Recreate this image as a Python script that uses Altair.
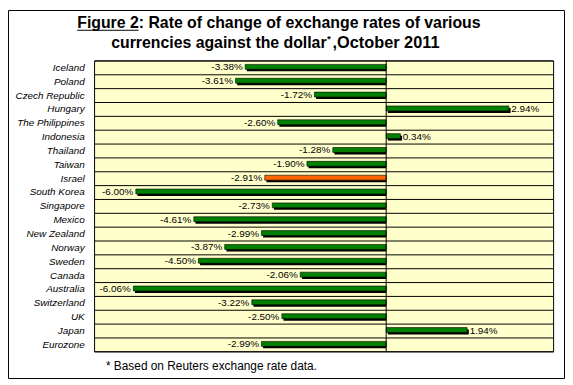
import altair as alt
import pandas as pd

countries = ["Iceland", "Poland", "Czech Republic", "Hungary", "The Philippines",
             "Indonesia", "Thailand", "Taiwan", "Israel", "South Korea", "Singapore",
             "Mexico", "New Zealand", "Norway", "Sweden", "Canada", "Australia",
             "Switzerland", "UK", "Japan", "Eurozone"]
changes = [-3.38, -3.61, -1.72, 2.94, -2.60, 0.34, -1.28, -1.90, -2.91, -6.00, -2.73,
           -4.61, -2.99, -3.87, -4.50, -2.06, -6.06, -3.22, -2.50, 1.94, -2.99]
highlight = ["Israel"]
title_fig = "Figure 2"
title_line1 = "Figure 2: Rate of change of exchange rates of various"
title_line2a = "currencies against the dollar"
title_star = "*"
title_line2b = ",October 2011"
footnote = "* Based on Reuters exchange rate data."

GREEN = "#008000"
ORANGE = "#FF6600"
BG = "#FFFFCC"
FONT = "Liberation Sans"

df = pd.DataFrame({"country": countries, "change": changes})
df["label"] = [f"{v:.2f}%" for v in changes]
df["color"] = [ORANGE if c in highlight else GREEN for c in countries]
df["zero"] = 0.0

W, H = 464, 294
xscale = alt.Scale(domain=[-7, 4], nice=False, zero=False)
X = alt.X("change:Q", scale=xscale, axis=None)
Y = alt.Y("country:N", sort=countries,
          scale=alt.Scale(paddingInner=0, paddingOuter=0),
          axis=alt.Axis(title=None, labelFont=FONT, labelFontStyle="italic",
                        labelFontSize=10, labelColor="black", ticks=False, tickSize=0,
                        domain=False, grid=True, gridColor="black", gridWidth=1,
                        gridOpacity=1, tickBand="extent", labelPadding=10))

base = alt.Chart(df)

shadow = base.transform_calculate(
    s0="datum.change < 0 ? datum.change + 0.04 : 0.04",
    s1="datum.change < 0 ? 0 : datum.change + 0.04",
).mark_bar(color="black", size=5, yOffset=1.5).encode(
    x=alt.X("s0:Q", scale=xscale, axis=None), x2="s1:Q", y=Y)

bars = base.mark_bar(size=5, yOffset=-0.5, stroke="black", strokeWidth=0.6).encode(
    x=X, x2="zero:Q", y=Y, color=alt.Color("color:N", scale=None))

zero = alt.Chart(pd.DataFrame({"z": [0.0]})).mark_rule(color="black", strokeWidth=1).encode(
    x=alt.X("z:Q", scale=xscale, axis=None), y=alt.value(0), y2=alt.value(H))

lab_neg = base.transform_filter("datum.change < 0").mark_text(
    align="right", baseline="middle", dx=-2.5, font=FONT, fontSize=10, color="black").encode(
    x=X, y=Y, text="label:N")
lab_pos = base.transform_filter("datum.change >= 0").mark_text(
    align="left", baseline="middle", dx=2.5, font=FONT, fontSize=10, color="black").encode(
    x=X, y=Y, text="label:N")

# page coords -> plot coords: x - 95, y - 59
def txt(s, x, y, size, align="left", weight="normal"):
    return alt.Chart(pd.DataFrame({"t": [s]})).mark_text(
        align=align, baseline="alphabetic", font=FONT, fontSize=size,
        fontWeight=weight, color="black").encode(
        text="t:N", x=alt.value(x - 95), y=alt.value(y - 59))

t1 = txt(title_line1, 78, 26, 16, weight="bold")
t2a = txt(title_line2a, 330, 46, 16, align="right", weight="bold")
t2s = txt(title_star, 330.5, 40, 10, weight="bold")
t2b = txt(title_line2b, 336, 46, 16.5, weight="bold")
foot = txt(footnote, 107, 372, 12)

underline = alt.Chart(pd.DataFrame({"t": [title_fig]})).mark_rule(
    color="black", strokeWidth=1).encode(
    x=alt.value(78 - 95), x2=alt.value(78 - 95 + 62), y=alt.value(28.5 - 59))

border = alt.Chart(pd.DataFrame({"t": [1]})).mark_rect(
    fillOpacity=0, stroke="black", strokeWidth=1).encode(
    x=alt.value(-86.5), x2=alt.value(475.5), y=alt.value(-50.5), y2=alt.value(321.5))

chart = alt.layer(
    shadow, bars, zero, lab_neg, lab_pos, t1, t2a, t2s, t2b, foot, underline, border
).properties(
    width=W, height=H,
    autosize=alt.AutoSizeParams(type="none"),
    padding={"left": 87, "top": 51, "right": 12, "bottom": 29},
    background="white",
).configure_view(fill=BG, stroke="black", strokeWidth=1)

chart.save("out.html", embed_options={"renderer": "svg", "actions": False})
